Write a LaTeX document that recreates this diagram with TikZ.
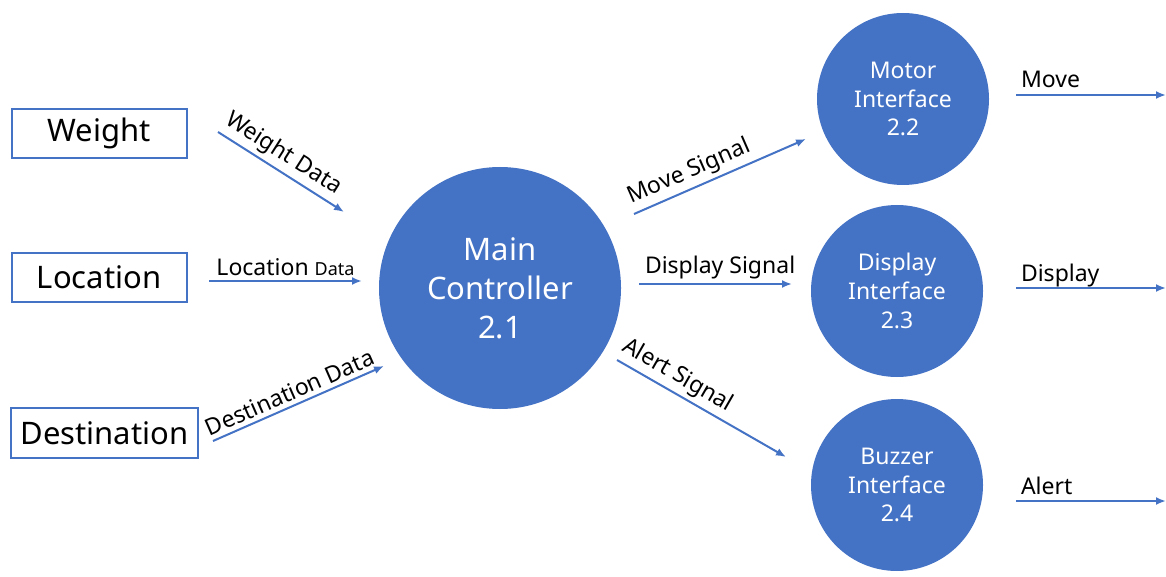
\documentclass[tikz,border=0pt]{standalone}
\usepackage{fontspec}
\setmainfont{Noto Sans}
\usetikzlibrary{arrows.meta}
\definecolor{dfdblue}{HTML}{4472C4}

\begin{document}
\begin{tikzpicture}[
  x=0.5pt, y=-0.5pt,
  >={Latex[length=5pt,width=4pt]},
  entity/.style={rectangle, draw=dfdblue, line width=1pt, minimum width=87.5pt, minimum height=24.5pt, font=\fontsize{15.5}{18}\selectfont},
  process/.style={circle, fill=dfdblue, text=white, align=center, inner sep=0pt, minimum size=86pt, font=\fontsize{11.5}{14.3}\selectfont},
  flow/.style={->, draw=dfdblue, line width=1pt},
  flowtext/.style={font=\fontsize{11.5}{13}\selectfont, inner sep=2pt},
  outtext/.style={font=\fontsize{11.5}{13}\selectfont, inner sep=2pt, anchor=base west, yshift=3.5pt}
]

\useasboundingbox (0,0) rectangle (1166,577);

% External entities
\node[entity] (weight) at (99,133.5) {Weight};
\node[entity] (location) at (99,277) {Location};
\node[entity, minimum width=93.5pt, minimum height=25pt] (destination) at (104.5,433) {Destination};

% Main process
\node[process, minimum size=121pt, font=\fontsize{15.5}{19.5}\selectfont] (main) at (500,288) {Main\\Controller\\2.1};

% Interface processes
\node[process] (motor) at (903,99) {Motor\\Interface\\2.2};
\node[process] (display) at (897,291) {Display\\Interface\\2.3};
\node[process] (buzzer) at (897,485) {Buzzer\\Interface\\2.4};

% Flow end points
\coordinate (wd-a) at (218,132);
\coordinate (wd-b) at (344,212);
\coordinate (ld-a) at (209,281);
\coordinate (ld-b) at (362,281);
\coordinate (dd-a) at (213,441);
\coordinate (dd-b) at (384,366);
\coordinate (ms-a) at (634,214);
\coordinate (ms-b) at (806,139);
\coordinate (ds-a) at (639,284);
\coordinate (ds-b) at (792,284);
\coordinate (as-a) at (617,360);
\coordinate (as-b) at (786,457);
\coordinate (mv-a) at (1016,95);
\coordinate (mv-b) at (1166,95);
\coordinate (dp-a) at (1016,288);
\coordinate (dp-b) at (1166,288);
\coordinate (al-a) at (1016,501);
\coordinate (al-b) at (1166,501);

% Input flows
\draw[flow] (wd-a) -- (wd-b) node[flowtext, pos=0.45, above, sloped] {Weight Data};
\draw[flow] (ld-a) -- (ld-b) node[flowtext, midway, above] {Location {\fontsize{9}{10}\selectfont Data}};
\draw[flow] (dd-a) -- (dd-b) node[flowtext, pos=0.48, above, sloped] {Destination Data};

% Signals
\draw[flow] (ms-a) -- (ms-b) node[flowtext, pos=0.36, above, sloped] {Move Signal};
\draw[flow] (ds-a) -- (ds-b) node[flowtext, pos=0.53, above] {Display Signal};
\draw[flow] (as-a) -- (as-b) node[flowtext, pos=0.31, above, sloped] {Alert Signal};

% Outputs
\draw[flow] (mv-a) -- (mv-b) node[outtext, pos=0] {Move};
\draw[flow] (dp-a) -- (dp-b) node[outtext, pos=0] {Display};
\draw[flow] (al-a) -- (al-b) node[outtext, pos=0] {Alert};

\end{tikzpicture}
\end{document}
